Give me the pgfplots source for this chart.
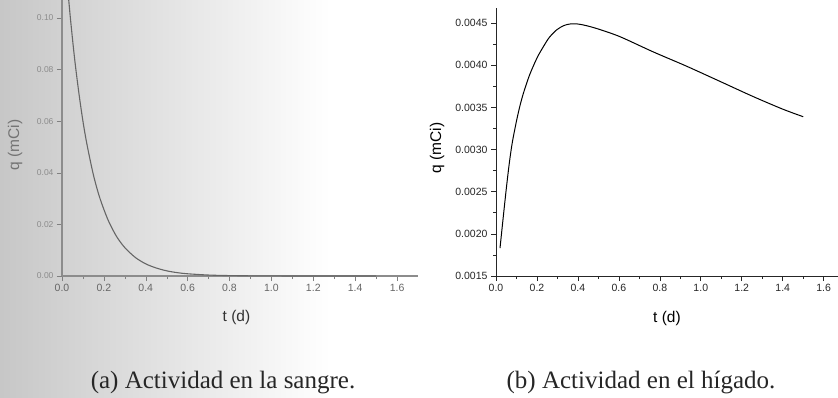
\documentclass[border=0pt]{standalone}
\usepackage{pgfplots}
\pgfplotsset{compat=1.18}
\usepackage{fontspec}
\setmainfont{Liberation Sans}
\newfontfamily\capfont{Liberation Serif}

\pgfplotstableread{
t q
0.030 0.1090
0.041 0.0992
0.060 0.0844
0.080 0.0713
0.100 0.0600
0.120 0.0507
0.150 0.0392
0.180 0.0304
0.220 0.0217
0.260 0.0154
0.300 0.0110
0.350 0.0072
0.400 0.0047
0.450 0.0031
0.500 0.0020
0.550 0.0013
0.600 0.00086
0.700 0.00037
0.800 0.00016
0.900 0.00007
1.000 0.00003
1.200 0.00000
1.500 0.00000
}\blood

\pgfplotstableread{
t q
0.0195 0.00183
0.035 0.00219
0.050 0.00253
0.065 0.00284
0.080 0.00309
0.101 0.00335
0.117 0.00352
0.134 0.00367
0.160 0.00386
0.182 0.00399
0.205 0.00411
0.231 0.00422
0.260 0.00433
0.296 0.00442
0.330 0.00447
0.361 0.00449
0.400 0.00449
0.442 0.00447
0.500 0.00443
0.605 0.00434
0.767 0.00416
0.930 0.00399
1.093 0.00381
1.255 0.00363
1.400 0.00348
1.500 0.00339
}\liver

\begin{document}
\begin{tikzpicture}[x=1pt,y=1pt]
\path[use as bounding box] (0,0) rectangle (838,397);
\shade[left color=black!22, right color=white] (0,0) rectangle (330,397);

\pgfplotsset{
  common/.style={
    scale only axis,
    anchor=south west,
    axis x line*=bottom, axis y line*=left,
    tick align=outside,
    major tick length=5pt, minor tick length=3pt,
    xtick={0,0.2,...,1.61}, minor x tick num=1,
    scaled y ticks=false,
    /pgf/number format/assume math mode=true,
    tick label style={font=\fontsize{10.5}{12}\selectfont},
    label style={font=\fontsize{15.5}{17}\selectfont},
    xticklabel style={/pgf/number format/.cd, fixed, fixed zerofill, precision=1},
    xlabel={t (d)},
  }
}

\begin{axis}[common,
  at={(62pt,121pt)}, width=356pt, height=276pt,
  xmin=0, xmax=1.7, ymin=0, ymax=0.107,
  ytick={0,0.02,...,0.101},
  axis line style={black!45, line width=1.4pt},
  every tick/.style={black!50},
  tick label style={text=black!60},
  yticklabel style={font=\fontsize{8.5}{10}\selectfont, text=black!45, /pgf/number format/.cd, fixed, fixed zerofill, precision=2},
  xlabel style={at={(axis description cs:0.49,-0.152)}, anchor=center, text=black!80},
  ylabel={q (mCi)},
  ylabel style={at={(axis description cs:-0.132,0.475)}, anchor=center, text=black!55},
]
\addplot[black!60, line width=1.1pt, smooth, no markers] table[x=t,y=q] {\blood};
\end{axis}

\begin{axis}[common,
  at={(496pt,121pt)}, width=342pt, height=268pt,
  xmin=0, xmax=1.67, ymin=0.0015, ymax=0.00468,
  ytick={0.0015,0.0020,...,0.00451}, minor y tick num=1,
  yticklabel style={/pgf/number format/.cd, fixed, fixed zerofill, precision=4},
  axis line style={black!85, line width=0.8pt},
  every tick/.style={black!85, line width=0.6pt},
  tick label style={text=black!85},
  xlabel style={at={(axis description cs:0.5,-0.157)}, anchor=center},
  ylabel={q (mCi)},
  ylabel style={at={(axis description cs:-0.1725,0.478)}, anchor=center},
]
\addplot[black, line width=1.0pt, smooth, no markers] table[x=t,y=q] {\liver};
\end{axis}

\node[font=\capfont\fontsize{25}{27}\selectfont, text=black!85] at (223,14) {(a) Actividad en la sangre.};
\node[font=\capfont\fontsize{25}{27}\selectfont, text=black!85] at (641,14) {(b) Actividad en el hígado.};
\end{tikzpicture}
\end{document}
